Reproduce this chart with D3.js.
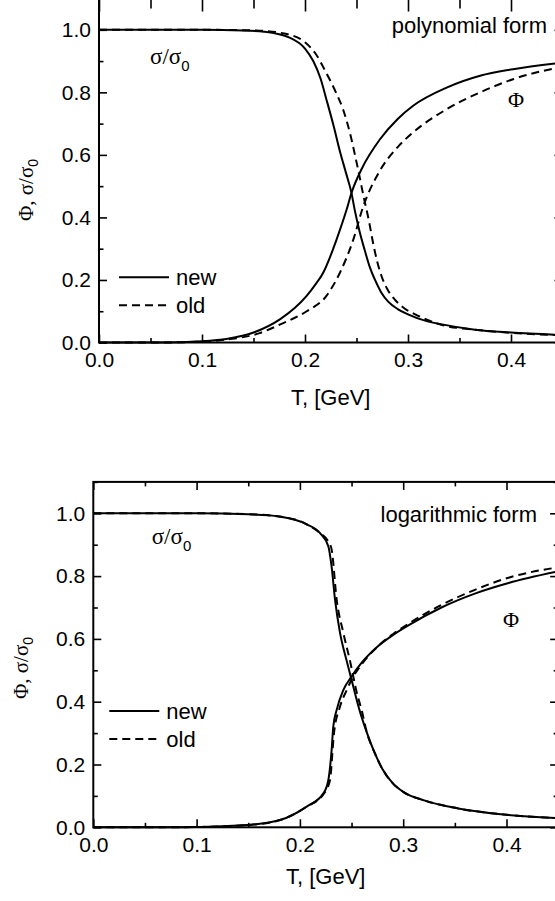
<!DOCTYPE html>
<html>
<head>
<meta charset="utf-8">
<script src="https://cdn.jsdelivr.net/npm/d3@7"></script>
<style>
  body { margin: 0; background: #fff; }
  svg { display: block; }
  .tick text { font-family: "Liberation Sans", Arial, sans-serif; font-size: 21px; fill: #000; }
</style>
</head>
<body>
<svg id="chart" width="555" height="901"></svg>
<script>

// T values in GeV
let xMajor = [0, 0.1, 0.2, 0.3, 0.4]
let xMinor = [0.05, 0.15, 0.25, 0.35, 0.45]
let yMajor = [0, 0.2, 0.4, 0.6, 0.8, 1.0]
let yMinor = [0.1, 0.3, 0.5, 0.7, 0.9, 1.1]

// polynomial form
let polySigmaNew = [[0,1],[0.10,1.0],[0.14,0.998],[0.16,0.994],[0.185,0.975],[0.20,0.94],[0.208,0.90],[0.215,0.845],[0.221,0.775],[0.228,0.69],[0.234,0.61],[0.240,0.54],[0.245,0.48],[0.2485,0.42],[0.253,0.355],[0.258,0.295],[0.263,0.24],[0.268,0.20],[0.274,0.16],[0.281,0.13],[0.29,0.107],[0.30,0.09],[0.3165,0.07],[0.333,0.058],[0.365,0.041],[0.40,0.032],[0.45,0.024]]
let polySigmaOld = [[0,1],[0.10,1.0],[0.15,0.998],[0.18,0.988],[0.20,0.96],[0.21,0.925],[0.221,0.86],[0.23,0.80],[0.237,0.745],[0.244,0.665],[0.2485,0.60],[0.253,0.53],[0.257,0.465],[0.262,0.39],[0.266,0.32],[0.27,0.26],[0.274,0.215],[0.28,0.17],[0.287,0.138],[0.297,0.108],[0.307,0.09],[0.333,0.056],[0.365,0.041],[0.40,0.031],[0.45,0.023]]
let polyPhiNew = [[0,0],[0.06,0],[0.10,0.004],[0.125,0.012],[0.15,0.032],[0.176,0.075],[0.19,0.11],[0.2016,0.149],[0.21,0.185],[0.2178,0.224],[0.2245,0.275],[0.2307,0.33],[0.2405,0.426],[0.2453,0.48],[0.255,0.555],[0.2728,0.65],[0.29,0.715],[0.305,0.757],[0.3375,0.815],[0.37,0.853],[0.402,0.874],[0.45,0.895]]
let polyPhiOld = [[0,0],[0.06,0],[0.10,0.003],[0.125,0.01],[0.156,0.03],[0.176,0.058],[0.2016,0.10],[0.221,0.15],[0.234,0.224],[0.247,0.33],[0.256,0.43],[0.2728,0.55],[0.29,0.625],[0.305,0.672],[0.3375,0.746],[0.37,0.80],[0.402,0.842],[0.45,0.882]]

// logarithmic form
let logSigmaNew = [[0,1],[0.10,1.0],[0.15,0.997],[0.18,0.99],[0.2066,0.965],[0.2195,0.937],[0.2275,0.895],[0.2307,0.83],[0.234,0.725],[0.2388,0.62],[0.2453,0.53],[0.25,0.47],[0.258,0.37],[0.265,0.30],[0.272,0.24],[0.28,0.185],[0.29,0.14],[0.30,0.113],[0.321,0.085],[0.3533,0.06],[0.40,0.04],[0.45,0.029]]
let logSigmaOld = [[0,1],[0.10,1.0],[0.15,0.997],[0.18,0.99],[0.2066,0.965],[0.2195,0.937],[0.2275,0.91],[0.2307,0.885],[0.2356,0.725],[0.242,0.62],[0.2485,0.53],[0.255,0.43],[0.26,0.37],[0.265,0.30],[0.272,0.24],[0.28,0.185],[0.29,0.14],[0.30,0.113],[0.321,0.085],[0.3533,0.06],[0.40,0.04],[0.45,0.029]]
let logPhiNew = [[0,0],[0.08,0],[0.10,0.001],[0.1485,0.007],[0.1807,0.023],[0.2066,0.066],[0.2227,0.108],[0.2275,0.15],[0.2307,0.246],[0.2323,0.32],[0.2356,0.374],[0.242,0.437],[0.25,0.48],[0.26,0.525],[0.275,0.575],[0.29,0.612],[0.305,0.643],[0.337,0.70],[0.37,0.745],[0.402,0.778],[0.45,0.815]]
let logPhiOld = [[0,0],[0.08,0],[0.10,0.001],[0.1485,0.007],[0.1807,0.023],[0.2066,0.066],[0.2227,0.105],[0.2291,0.15],[0.233,0.30],[0.2388,0.384],[0.2453,0.437],[0.25,0.47],[0.26,0.52],[0.275,0.575],[0.29,0.615],[0.305,0.648],[0.337,0.708],[0.37,0.757],[0.402,0.795],[0.45,0.828]]

let panels = [
    { left: 99, bottom: 342.5, pxPerT: 1030, pxPerV: 312.7, name: 'polynomial form', topTicks: [13, 10],
      curves: [polySigmaNew, polyPhiNew, polySigmaOld, polyPhiOld],
      nameAt: [547, 33], sigmaAt: [150, 63.5], phiAt: [516, 107], legendY: 277.3, legendX: 20, titleY: 190, titleX: 33, xTitleGap: 62 },
    { left: 93.3, bottom: 827.3, pxPerT: 1033, pxPerV: 314, name: 'logarithmic form', topTicks: [8, 4.5],
      curves: [logSigmaNew, logPhiNew, logSigmaOld, logPhiOld],
      nameAt: [537, 522], sigmaAt: [151.7, 543.5], phiAt: [511, 626.7], legendY: 711, legendX: 16, titleY: 668, titleX: 27.5, xTitleGap: 57 }
]

let svg = d3.select('#chart')
let serif = '"Liberation Serif", "Times New Roman", serif'
let sans = '"Liberation Sans", Arial, sans-serif'

panels.forEach(function (p) {
    let x = d3.scaleLinear().domain([0, 0.45]).range([p.left, p.left + 0.45 * p.pxPerT])
    let y = d3.scaleLinear().domain([0, 1.1]).range([p.bottom, p.bottom - 1.1 * p.pxPerV])
    let x0 = x.range()[0], x1 = x.range()[1], y0 = y.range()[0], y1 = y.range()[1]

    let g = svg.append('g')

    // frame
    g.append('rect')
        .attr('x', x0).attr('y', y1)
        .attr('width', x1 - x0).attr('height', y0 - y1)
        .attr('fill', 'none').attr('stroke', '#000').attr('stroke-width', 2)

    function axis(gen, tf, scale, vals, size, labels, pad) {
        let a = gen(scale).tickValues(vals).tickSizeInner(-size).tickSizeOuter(0).tickPadding(pad || 8)
        if (!labels) a.tickFormat('')
        else a.tickFormat(d3.format('.1f'))
        let ag = g.append('g').attr('transform', tf).call(a)
        ag.select('.domain').remove()
        ag.selectAll('.tick line').attr('stroke', '#000').attr('stroke-width', 1.6)
        return ag
    }

    axis(d3.axisBottom, `translate(0,${y0})`, x, xMajor, 8, true, 10)
    axis(d3.axisBottom, `translate(0,${y0})`, x, xMinor, 4.5, false)
    axis(d3.axisTop, `translate(0,${y1})`, x, xMajor, p.topTicks[0], false)
    axis(d3.axisTop, `translate(0,${y1})`, x, xMinor, p.topTicks[1], false)
    axis(d3.axisLeft, `translate(${x0},0)`, y, yMajor, 8, true, 8)
    axis(d3.axisLeft, `translate(${x0},0)`, y, yMinor, 4.5, false)
    axis(d3.axisRight, `translate(${x1},0)`, y, yMajor, 8, false)
    axis(d3.axisRight, `translate(${x1},0)`, y, yMinor, 4.5, false)

    // curves: new solid, old dashed
    let line = d3.line().x(d => x(d[0])).y(d => y(d[1])).curve(d3.curveMonotoneX)
    p.curves.forEach(function (c, i) {
        g.append('path')
            .attr('d', line(c))
            .attr('fill', 'none')
            .attr('stroke', '#000')
            .attr('stroke-width', 2)
            .attr('stroke-dasharray', i >= 2 ? '8,5' : null)
    })

    // x title
    g.append('text')
        .attr('x', x0 + 0.225 * p.pxPerT)
        .attr('y', y0 + p.xTitleGap)
        .attr('text-anchor', 'middle')
        .style('font-family', sans).style('font-size', '22px')
        .text('T, [GeV]')

    // y title
    let yt = g.append('text')
        .attr('transform', `translate(${p.titleX},${p.titleY}) rotate(-90)`)
        .attr('text-anchor', 'middle')
        .style('font-family', serif).style('font-size', '21px')
    yt.append('tspan').text('Φ, σ/σ')
    yt.append('tspan').attr('dy', 5).style('font-size', '14px').style('font-family', sans).text('0')

    // panel name
    g.append('text')
        .attr('x', p.nameAt[0]).attr('y', p.nameAt[1])
        .attr('text-anchor', 'end')
        .style('font-family', sans).style('font-size', '22px')
        .text(p.name)

    // curve labels
    let st = g.append('text')
        .attr('x', p.sigmaAt[0]).attr('y', p.sigmaAt[1])
        .style('font-family', serif).style('font-size', '23px')
    st.append('tspan').text('σ/σ')
    st.append('tspan').attr('dy', 7).style('font-size', '15px').style('font-family', sans).text('0')

    g.append('text')
        .attr('x', p.phiAt[0]).attr('y', p.phiAt[1])
        .attr('text-anchor', 'middle')
        .style('font-family', serif).style('font-size', '22px')
        .text('Φ')

    // legend
    let legend = [['new', null], ['old', '8,5']]
    legend.forEach(function (l, i) {
        let ly = p.legendY + i * 28
        g.append('line')
            .attr('x1', x0 + p.legendX).attr('x2', x0 + p.legendX + 50)
            .attr('y1', ly).attr('y2', ly)
            .attr('stroke', '#000').attr('stroke-width', 2)
            .attr('stroke-dasharray', l[1])
        g.append('text')
            .attr('x', x0 + p.legendX + 57).attr('y', ly + 8)
            .style('font-family', sans).style('font-size', '22px')
            .text(l[0])
    })
})

</script>
</body>
</html>
